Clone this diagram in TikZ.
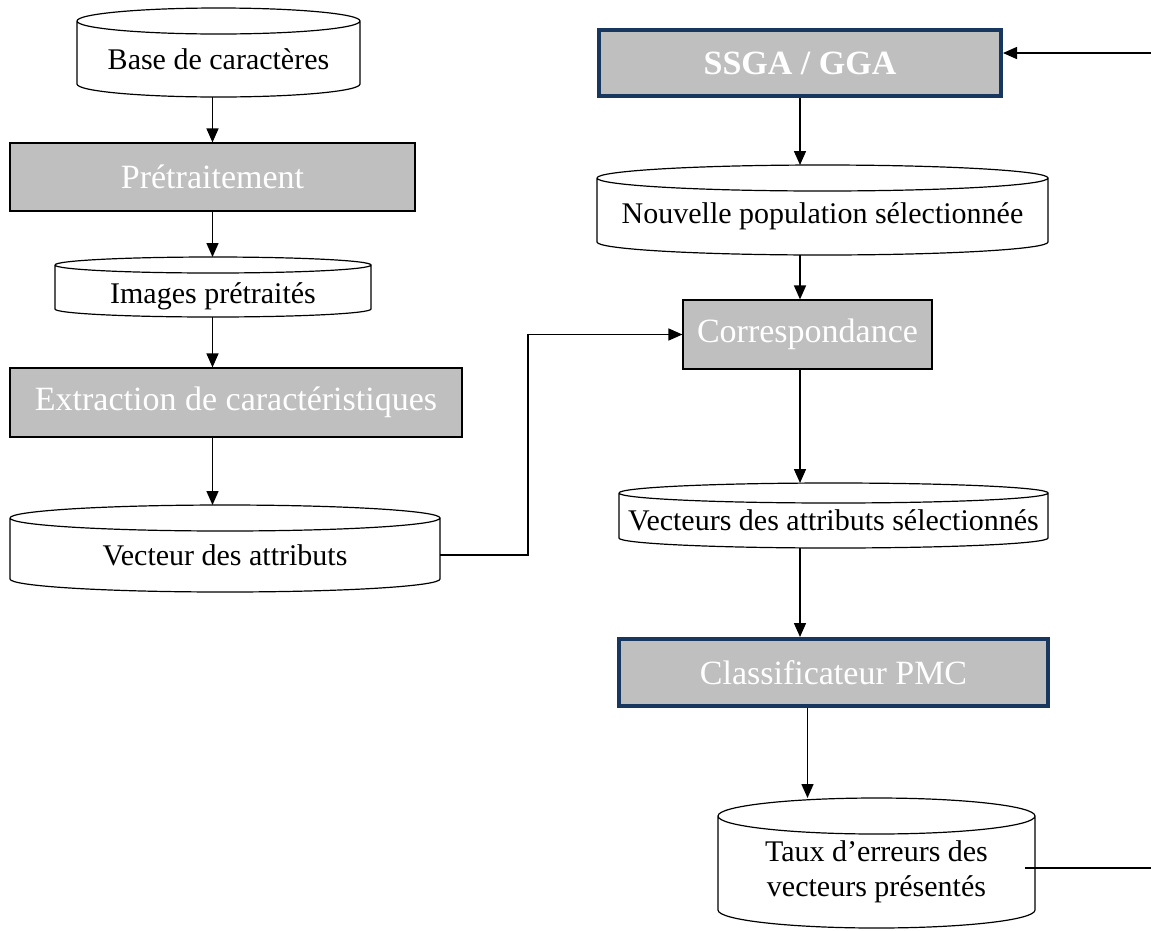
\documentclass[tikz,border=0pt]{standalone}
\usepackage{fontspec}
\setmainfont{Liberation Serif}
\usetikzlibrary{arrows.meta,calc}

\definecolor{boxgray}{HTML}{BFBFBF}
\definecolor{boxblue}{HTML}{17375E}

\tikzset{
  proc/.style={draw, fill=boxgray, line width=1.2pt, text=white,
    font=\fontsize{34}{40}\selectfont, inner sep=0pt},
  procb/.style={proc, draw=boxblue, line width=4pt},
  store/.style={inner sep=0pt, outer sep=0pt, align=center,
    font=\fontsize{30}{35}\selectfont},
  flow/.style={line width=1.5pt, -{Triangle[length=14pt,width=12pt]}},
  link/.style={line width=1.5pt},
}

\begin{document}
\begin{tikzpicture}[x=1pt, y=-1pt]
  \useasboundingbox (0,0) rectangle (1151,930);

  % colonne de gauche
  \node[store, minimum width=283, minimum height=76] (base) at (218.5,59) {Base de caractères};
  \node[proc, minimum width=405, minimum height=68] (pre) at (212.5,177) {Prétraitement};
  \node[store, minimum width=316, minimum height=52, text height=31pt, text depth=7pt] (img) at (213,291) {Images prétraités};
  \node[proc, minimum width=452, minimum height=69] (ext) at (236,402.5) {Extraction de caractéristiques};
  \node[store, minimum width=430, minimum height=74] (vec) at (225,555) {Vecteur des attributs};

  % colonne de droite
  \node[procb, minimum width=402, minimum height=66] (ssga) at (800,63) {\bfseries SSGA / GGA};
  \node[store, minimum width=451, minimum height=77] (pop) at (822.5,216.5) {Nouvelle population sélectionnée};
  \node[proc, minimum width=249, minimum height=69] (corr) at (807.5,334.5) {Correspondance};
  \node[store, minimum width=429, minimum height=55] (sel) at (833.5,520.5) {Vecteurs des attributs sélectionnés};
  \node[procb, minimum width=429, minimum height=67] (pmc) at (833.5,672.5) {Classificateur PMC};
  \node[store, minimum width=317, minimum height=112] (taux) at (876.5,872) {Taux d’erreurs des\\vecteurs présentés};

  % cylindres (bases de données)
  \foreach \s/\r in {base/13, img/8, vec/13, pop/13, sel/10, taux/18}{
    \draw[line width=1.2pt] let \p1=(\s.north west), \p2=(\s.south east), \n1={(\x2-\x1)/2} in
      (\x1,\y1) arc[start angle=180, end angle=-180, x radius=\n1, y radius=\r pt]
      (\x1,\y1) -- (\x1,\y2+\r pt)
      arc[start angle=180, end angle=360, x radius=\n1, y radius=\r pt] -- (\x2,\y1);
    \coordinate (\s-top) at ([yshift=\r pt]\s.north);
  }

  \coordinate (fbin) at (1151,53);
  \coordinate (fbout) at (1151,868);

  % fleches
  \draw[flow] (base.south -| pre.north) -- (pre.north);
  \draw[flow] (pre.south) -- (pre.south |- img-top);
  \draw[flow] (img.south -| pre) -- (ext.north -| pre);
  \draw[flow] (ext.south -| pre) -- (vec-top -| pre);
  \draw[flow] (vec.east) -- ++(88,0) |- (corr.west);

  \draw[flow] (ssga.south) -- (ssga.south |- pop-top);
  \draw[flow] (pop.south -| ssga) -- (corr.north -| ssga);
  \draw[flow] (corr.south -| ssga) -- (sel-top -| ssga);
  \draw[flow] (sel.south -| ssga) -- (pmc.north -| ssga);
  \draw[flow] (pmc.south -| corr) -- (taux-top -| corr);

  % retour
  \draw[link] ([xshift=-10pt]fbout -| taux.east) -- (fbout);
  \draw[flow] (fbin) -- (fbin -| ssga.east);
\end{tikzpicture}
\end{document}
